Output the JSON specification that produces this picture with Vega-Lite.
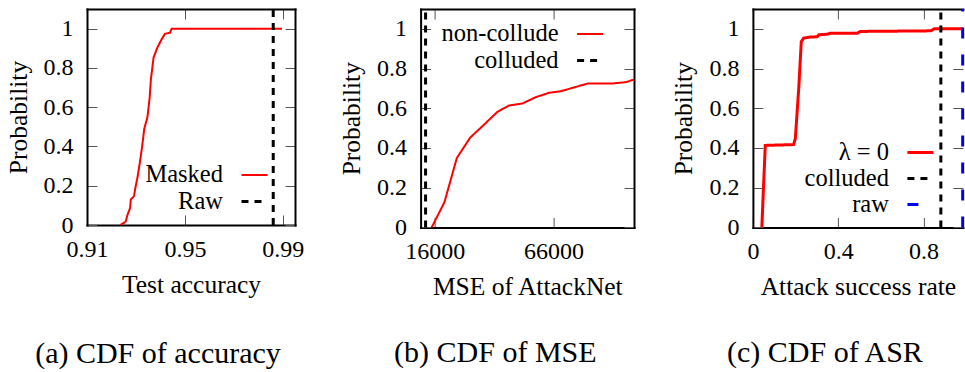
{
  "$schema": "https://vega.github.io/schema/vega-lite/v6.json",
  "padding": {"left": 6, "top": 3, "right": 0, "bottom": 0},
  "autosize": {"type": "pad"},
  "config": {
    "font": "Liberation Serif",
    "view": {"stroke": null},
    "axis": {
      "grid": false,
      "labelFont": "Liberation Serif", "labelFontSize": 24, "labelColor": "black",
      "titleFont": "Liberation Serif", "titleFontSize": 25.5, "titleFontWeight": "normal", "titleColor": "black",
      "domainColor": "black", "domainWidth": 2, "domainCap": "square",
      "tickColor": "#555", "tickWidth": 1, "tickSize": -10,
      "labelFlush": false, "labelOverlap": false
    },
    "axisBottom": {"labelPadding": 22, "titlePadding": 11},
    "axisLeft": {"labelPadding": 24, "titlePadding": 12},
    "legend": {
      "orient": "none", "title": null, "padding": 0,
      "labelFont": "Liberation Serif", "labelFontSize": 24.5, "labelColor": "black",
      "labelAlign": "right", "labelOffset": -46,
      "symbolType": "stroke", "symbolSize": 676, "rowPadding": 0
    },
    "title": {"font": "Liberation Serif", "fontSize": 30, "fontWeight": "normal", "color": "black"}
  },
  "spacing": 125.6,
  "bounds": "flush",
  "resolve": {
    "scale": {"color": "independent", "strokeDash": "independent", "strokeWidth": "independent"},
    "legend": {"color": "independent", "strokeDash": "independent", "strokeWidth": "independent"}
  },
  "hconcat": [
    {
      "width": 208, "height": 216,
      "title": {"text": "(a) CDF of accuracy", "orient": "bottom", "anchor": "middle", "frame": "group", "dx": -33, "offset": 41},
      "data": {"values": [
        {"series": "Masked", "x": 0.9237, "y": 0},
        {"series": "Masked", "x": 0.9258, "y": 0.017},
        {"series": "Masked", "x": 0.9265, "y": 0.05},
        {"series": "Masked", "x": 0.9276, "y": 0.086},
        {"series": "Masked", "x": 0.9279, "y": 0.13},
        {"series": "Masked", "x": 0.9292, "y": 0.147},
        {"series": "Masked", "x": 0.9299, "y": 0.198},
        {"series": "Masked", "x": 0.9306, "y": 0.24},
        {"series": "Masked", "x": 0.9315, "y": 0.31},
        {"series": "Masked", "x": 0.9325, "y": 0.397},
        {"series": "Masked", "x": 0.9334, "y": 0.49},
        {"series": "Masked", "x": 0.9347, "y": 0.55},
        {"series": "Masked", "x": 0.9356, "y": 0.647},
        {"series": "Masked", "x": 0.9361, "y": 0.74},
        {"series": "Masked", "x": 0.9372, "y": 0.853},
        {"series": "Masked", "x": 0.9388, "y": 0.905},
        {"series": "Masked", "x": 0.9406, "y": 0.948},
        {"series": "Masked", "x": 0.9419, "y": 0.974},
        {"series": "Masked", "x": 0.9439, "y": 0.979},
        {"series": "Masked", "x": 0.9446, "y": 1.0},
        {"series": "Masked", "x": 0.9897, "y": 1.0},
        {"series": "Raw", "x": 0.9861, "y": 0},
        {"series": "Raw", "x": 0.9861, "y": 1.1}
      ]},
      "layer": [
        {
          "mark": {"type": "line"},
          "encoding": {
            "x": {"field": "x", "type": "quantitative", "scale": {"domain": [0.91, 0.995], "nice": false, "zero": false},
                  "axis": {"orient": "bottom", "values": [0.91, 0.95, 0.99], "format": "~g", "title": "Test accuracy"}},
            "y": {"field": "y", "type": "quantitative", "scale": {"domain": [0, 1.1], "nice": false},
                  "axis": {"orient": "left", "values": [0, 0.2, 0.4, 0.6, 0.8, 1], "format": "~g", "title": "Probability"}},
            "color": {"field": "series", "type": "nominal", "scale": {"domain": ["Masked", "Raw"], "range": ["#ff0000", "#000000"]},
                      "legend": {"legendX": 153, "legendY": 152}},
            "strokeDash": {"field": "series", "type": "nominal", "scale": {"domain": ["Masked", "Raw"], "range": [[1, 0], [7, 6]]},
                      "legend": {"legendX": 153, "legendY": 152}},
            "strokeWidth": {"field": "series", "type": "nominal", "scale": {"domain": ["Masked", "Raw"], "range": [2, 3]},
                      "legend": {"legendX": 153, "legendY": 152}}
          }
        },
        {
          "mark": {"type": "point", "opacity": 0},
          "encoding": {
            "x": {"field": "x", "type": "quantitative", "axis": {"orient": "top", "values": [0.91, 0.95, 0.99], "labels": false, "title": null}},
            "y": {"field": "y", "type": "quantitative", "axis": {"orient": "right", "values": [0, 0.2, 0.4, 0.6, 0.8, 1], "labels": false, "title": null}}
          }
        }
      ],
      "resolve": {"axis": {"x": "independent", "y": "independent"}}
    },
    {
      "spacing": 118.3,
      "bounds": "flush",
      "resolve": {
        "scale": {"color": "independent", "strokeDash": "independent", "strokeWidth": "independent"},
        "legend": {"color": "independent", "strokeDash": "independent", "strokeWidth": "independent"}
      },
      "hconcat": [
        {
          "width": 213.4, "height": 218.4,
          "title": {"text": "(b) CDF of MSE", "orient": "bottom", "anchor": "middle", "frame": "group", "dx": -32, "offset": 38},
          "data": {"values": [
            {"series": "non-collude", "x": 14674, "y": 0},
            {"series": "non-collude", "x": 20056, "y": 0.127},
            {"series": "non-collude", "x": 25297, "y": 0.35},
            {"series": "non-collude", "x": 30963, "y": 0.453},
            {"series": "non-collude", "x": 35921, "y": 0.508},
            {"series": "non-collude", "x": 42295, "y": 0.581},
            {"series": "non-collude", "x": 47252, "y": 0.614},
            {"series": "non-collude", "x": 52918, "y": 0.624},
            {"series": "non-collude", "x": 58584, "y": 0.656},
            {"series": "non-collude", "x": 64249, "y": 0.678},
            {"series": "non-collude", "x": 69207, "y": 0.686},
            {"series": "non-collude", "x": 74164, "y": 0.703},
            {"series": "non-collude", "x": 80538, "y": 0.725},
            {"series": "non-collude", "x": 91161, "y": 0.725},
            {"series": "non-collude", "x": 96827, "y": 0.732},
            {"series": "non-collude", "x": 100000, "y": 0.745},
            {"series": "colluded", "x": 12100, "y": 0},
            {"series": "colluded", "x": 12100, "y": 1.1}
          ]},
          "layer": [
            {
              "mark": {"type": "line"},
              "encoding": {
                "x": {"field": "x", "type": "quantitative", "scale": {"domain": [10000, 100000], "nice": false, "zero": false},
                      "axis": {"orient": "bottom", "values": [16000, 66000], "format": "d", "title": "MSE of AttackNet"}},
                "y": {"field": "y", "type": "quantitative", "scale": {"domain": [0, 1.1], "nice": false},
                      "axis": {"orient": "left", "values": [0, 0.2, 0.4, 0.6, 0.8, 1], "format": "~g", "title": "Probability"}},
                "color": {"field": "series", "type": "nominal", "scale": {"domain": ["non-collude", "colluded"], "range": ["#ff0000", "#000000"]},
                          "legend": {"legendX": 155, "legendY": 11}},
                "strokeDash": {"field": "series", "type": "nominal", "scale": {"domain": ["non-collude", "colluded"], "range": [[1, 0], [7, 6]]},
                          "legend": {"legendX": 155, "legendY": 11}},
                "strokeWidth": {"field": "series", "type": "nominal", "scale": {"domain": ["non-collude", "colluded"], "range": [2, 3]},
                          "legend": {"legendX": 155, "legendY": 11}}
              }
            },
            {
              "mark": {"type": "point", "opacity": 0},
              "encoding": {
                "x": {"field": "x", "type": "quantitative", "axis": {"orient": "top", "values": [16000, 66000], "labels": false, "title": null}},
                "y": {"field": "y", "type": "quantitative", "axis": {"orient": "right", "values": [0, 0.2, 0.4, 0.6, 0.8, 1], "labels": false, "title": null}}
              }
            }
          ],
          "resolve": {"axis": {"x": "independent", "y": "independent"}}
        },
        {
          "width": 210, "height": 218.4,
          "title": {"text": "(c) CDF of ASR", "orient": "bottom", "anchor": "middle", "frame": "group", "dx": -33, "offset": 38},
          "data": {"values": [
            {"series": "λ = 0", "x": 0.042, "y": 0},
            {"series": "λ = 0", "x": 0.05, "y": 0.21},
            {"series": "λ = 0", "x": 0.058, "y": 0.413},
            {"series": "λ = 0", "x": 0.191, "y": 0.417},
            {"series": "λ = 0", "x": 0.199, "y": 0.447},
            {"series": "λ = 0", "x": 0.215, "y": 0.7},
            {"series": "λ = 0", "x": 0.227, "y": 0.936},
            {"series": "λ = 0", "x": 0.238, "y": 0.953},
            {"series": "λ = 0", "x": 0.262, "y": 0.958},
            {"series": "λ = 0", "x": 0.301, "y": 0.96},
            {"series": "λ = 0", "x": 0.309, "y": 0.97},
            {"series": "λ = 0", "x": 0.348, "y": 0.973},
            {"series": "λ = 0", "x": 0.364, "y": 0.978},
            {"series": "λ = 0", "x": 0.489, "y": 0.978},
            {"series": "λ = 0", "x": 0.505, "y": 0.987},
            {"series": "λ = 0", "x": 0.835, "y": 0.99},
            {"series": "λ = 0", "x": 0.85, "y": 1.0},
            {"series": "λ = 0", "x": 0.985, "y": 1.0},
            {"series": "colluded", "x": 0.8816, "y": 0},
            {"series": "colluded", "x": 0.8816, "y": 1.1},
            {"series": "raw", "x": 0.984, "y": 0},
            {"series": "raw", "x": 0.984, "y": 1.1}
          ]},
          "layer": [
            {
              "mark": {"type": "line"},
              "encoding": {
                "x": {"field": "x", "type": "quantitative", "scale": {"domain": [0, 0.985], "nice": false, "zero": false},
                      "axis": {"orient": "bottom", "values": [0, 0.4, 0.8], "format": "~g", "title": "Attack success rate"}},
                "y": {"field": "y", "type": "quantitative", "scale": {"domain": [0, 1.1], "nice": false},
                      "axis": {"orient": "left", "values": [0, 0.2, 0.4, 0.6, 0.8, 1], "format": "~g", "title": "Probability"}},
                "color": {"field": "series", "type": "nominal", "scale": {"domain": ["λ = 0", "colluded", "raw"], "range": ["#ff0000", "#000000", "#0000ff"]},
                          "legend": {"legendX": 153, "legendY": 129}},
                "strokeDash": {"field": "series", "type": "nominal", "scale": {"domain": ["λ = 0", "colluded", "raw"], "range": [[1, 0], [7, 6], [11, 16]]},
                          "legend": {"legendX": 153, "legendY": 129}},
                "strokeWidth": {"field": "series", "type": "nominal", "scale": {"domain": ["λ = 0", "colluded", "raw"], "range": [3, 3, 3]},
                          "legend": {"legendX": 153, "legendY": 129}}
              }
            },
            {
              "mark": {"type": "point", "opacity": 0},
              "encoding": {
                "x": {"field": "x", "type": "quantitative", "axis": {"orient": "top", "values": [0, 0.4, 0.8], "labels": false, "title": null}},
                "y": {"field": "y", "type": "quantitative", "axis": {"orient": "right", "values": [0, 0.2, 0.4, 0.6, 0.8, 1], "labels": false, "title": null, "domain": false}}
              }
            }
          ],
          "resolve": {"axis": {"x": "independent", "y": "independent"}}
        }
      ]
    }
  ]
}
